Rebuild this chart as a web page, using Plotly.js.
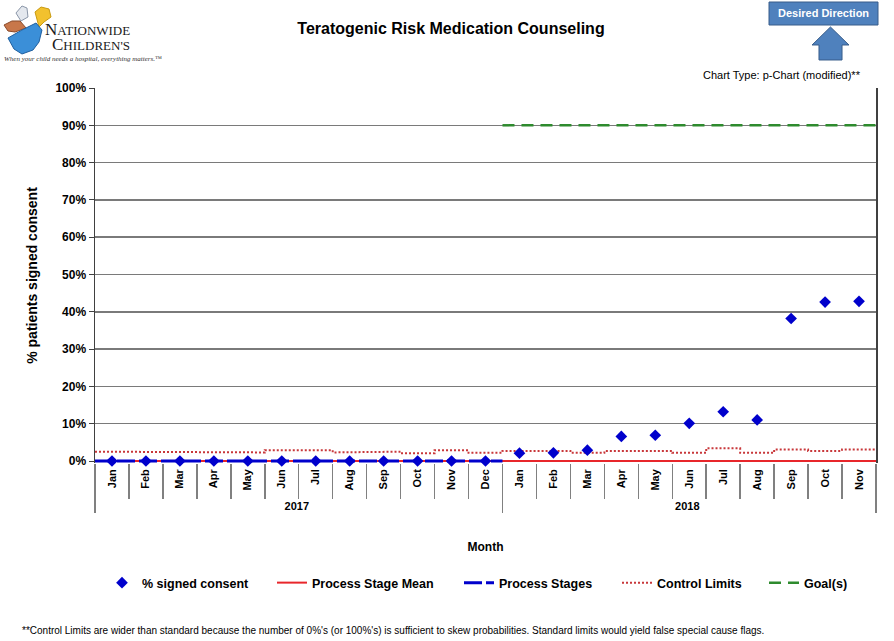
<!DOCTYPE html>
<html>
<head>
<meta charset="utf-8">
<script src="https://cdn.plot.ly/plotly-3.0.1.min.js"></script>
<style>
  html, body { margin: 0; padding: 0; background: #fff; }
  #chart { width: 894px; height: 641px; }
</style>
</head>
<body>
<div id="chart"></div>
<script>
(function() {
  "use strict";

  // ---- data ----
  var years = ["2017", "2017", "2017", "2017", "2017", "2017", "2017", "2017", "2017", "2017", "2017", "2017",
               "2018", "2018", "2018", "2018", "2018", "2018", "2018", "2018", "2018", "2018", "2018"];
  var months = ["Jan", "Feb", "Mar", "Apr", "May", "Jun", "Jul", "Aug", "Sep", "Oct", "Nov", "Dec",
                "Jan", "Feb", "Mar", "Apr", "May", "Jun", "Jul", "Aug", "Sep", "Oct", "Nov"];
  var signedConsent = [0, 0, 0, 0, 0, 0, 0, 0, 0, 0, 0, 0,
                       2.1, 2.2, 2.9, 6.6, 6.9, 10.1, 13.2, 11.0, 38.2, 42.6, 42.8];
  var stageMean = [0, 0, 0, 0, 0, 0, 0, 0, 0, 0, 0, 0,
                   0, 0, 0, 0, 0, 0, 0, 0, 0, 0, 0];
  var processStage = [0, 0, 0, 0, 0, 0, 0, 0, 0, 0, 0, 0,
                      null, null, null, null, null, null, null, null, null, null, null];
  var controlLimit = [2.5, 2.5, 2.5, 2.5, 2.3, 2.9, 2.9, 2.3, 2.5, 2.1, 2.9, 2.2,
                      2.7, 2.7, 2.2, 2.7, 2.7, 2.2, 3.4, 2.2, 3.1, 2.7, 3.1];
  var goal = [null, null, null, null, null, null, null, null, null, null, null, null,
              90, 90, 90, 90, 90, 90, 90, 90, 90, 90, 90];
  var yTicks = [0, 10, 20, 30, 40, 50, 60, 70, 80, 90, 100];

  // plot area in pixels, used only to place the decorations outside the plot
  var L = 95, R = 876, T = 88, B = 463;
  var Z = 461; // pixel row of 0%
  function px(x) { return (x - L) / (R - L); }
  function py(y) { return (B - y) / (B - T); }
  function pathPx(points) {
    return points.map(function(p, i) {
      return (i === 0 ? "M" : "L") + px(p[0]).toFixed(4) + "," + py(p[1]).toFixed(4);
    }).join(" ") + " Z";
  }

  // month-wide horizontal steps, one segment per month
  function steps(values) {
    var xs = [], ys = [];
    values.forEach(function(v, i) {
      if (v === null) {
        if (xs.length && xs[xs.length - 1] !== null) { xs.push(null); ys.push(null); }
        return;
      }
      xs.push(i - 0.5, i + 0.5);
      ys.push(v, v);
    });
    return {x: xs, y: ys};
  }

  var idx = months.map(function(m, i) { return i; });
  var font = "Liberation Sans, Arial, sans-serif";
  var serif = "Liberation Serif, DejaVu Serif, serif";

  var cl = steps(controlLimit);
  var sm = steps(stageMean);
  var ps = steps(processStage);
  var gl = steps(goal);

  var data = [
    { // sets up the two-level month / year axis
      x: [years, months], y: months.map(function() { return null; }),
      type: "scatter", mode: "markers", showlegend: false, hoverinfo: "skip",
      xaxis: "x", yaxis: "y"
    },
    {
      x: cl.x, y: cl.y, name: "Control Limits", type: "scatter", mode: "lines",
      line: {color: "#c8373a", width: 2, dash: "2px,2px"}, xaxis: "x2", legend: "legend4"
    },
    {
      x: sm.x, y: sm.y, name: "Process Stage Mean", type: "scatter", mode: "lines",
      line: {color: "#e8262b", width: 2}, xaxis: "x2", legend: "legend2"
    },
    {
      x: ps.x, y: ps.y, name: "Process Stages", type: "scatter", mode: "lines",
      line: {color: "#0000cc", width: 3, dash: "18px,4px"}, xaxis: "x2", legend: "legend3"
    },
    {
      x: gl.x, y: gl.y, name: "Goal(s)", type: "scatter", mode: "lines",
      line: {color: "#2e8b2e", width: 2.5, dash: "12px,7px"}, xaxis: "x2", legend: "legend5"
    },
    {
      x: idx, y: signedConsent, name: "% signed consent", type: "scatter", mode: "markers",
      marker: {symbol: "diamond", size: 9, color: "#0000cc"}, xaxis: "x2", cliponaxis: false,
      legend: "legend"
    }
  ];

  function legendAt(x) {
    return {
      orientation: "h",
      x: px(x), xanchor: "left",
      y: py(583), yanchor: "middle",
      font: {family: font, size: 12.5, weight: "bold", color: "#000"},
      bgcolor: "rgba(0,0,0,0)"
    };
  }

  var layout = {
    width: 894,
    height: 641,
    margin: {l: L, r: 894 - R, t: T, b: 641 - B},
    paper_bgcolor: "#fff",
    plot_bgcolor: "#fff",
    font: {family: font, color: "#000"},
    showlegend: true,
    title: {
      text: "Teratogenic Risk Medication Counseling",
      font: {family: font, size: 16, weight: "bold", color: "#000"},
      xref: "paper", x: px(451), xanchor: "center",
      yref: "container", y: 1 - 28 / 641, yanchor: "middle"
    },
    xaxis: {
      type: "multicategory",
      range: [-0.5, 22.5],
      tickangle: -90,
      ticks: "outside",
      ticklen: 35,
      tickcolor: "#808080",
      tickwidth: 1.5,
      ticklabelstandoff: 3,
      tickfont: {family: font, size: 11, weight: "bold", color: "#000"},
      showdividers: true,
      dividercolor: "#808080",
      dividerwidth: 1.5,
      showgrid: false,
      showline: false,
      zeroline: false,
      title: {text: "Month", font: {family: font, size: 12, weight: "bold", color: "#000"}, standoff: 31}
    },
    xaxis2: {
      overlaying: "x",
      range: [-0.5, 22.5],
      visible: false,
      anchor: "y"
    },
    yaxis: {
      range: [-100 * (B - Z) / (Z - T), 100],
      tickvals: yTicks,
      ticktext: yTicks.map(function(v) { return v + "%"; }),
      ticks: "outside",
      ticklen: 5,
      tickcolor: "#404040",
      tickfont: {family: font, size: 12, weight: "bold", color: "#000"},
      showgrid: true,
      gridcolor: "#7a7a7a",
      gridwidth: 1.5,
      showline: true,
      linecolor: "#404040",
      linewidth: 1.5,
      mirror: true,
      zeroline: false,
      title: {text: "% patients signed consent", font: {family: font, size: 14, weight: "bold", color: "#000"}, standoff: 14}
    },
    legend: legendAt(102),
    legend2: legendAt(272),
    legend3: legendAt(459),
    legend4: legendAt(617),
    legend5: legendAt(764),
    shapes: [
      // Desired Direction box and arrow
      {type: "rect", xref: "paper", yref: "paper", x0: px(769), x1: px(878), y0: py(25), y1: py(2),
       fillcolor: "#4f81bd", line: {color: "#385d8a", width: 1}},
      {type: "path", xref: "paper", yref: "paper",
       path: pathPx([[812, 45], [830.5, 27], [849, 45], [842, 45], [842, 60], [819, 60], [819, 45]]),
       fillcolor: "#4f81bd", line: {color: "#385d8a", width: 1}},
      // logo butterflies
      {type: "path", xref: "paper", yref: "paper",
       path: pathPx([[16, 13], [22, 6], [27, 8], [28, 17], [21, 21]]),
       fillcolor: "#e4e8ee", line: {color: "#8a96a8", width: 1}},
      {type: "path", xref: "paper", yref: "paper",
       path: pathPx([[35, 12], [41, 7], [49, 9], [51, 17], [44, 22], [39, 27]]),
       fillcolor: "#f2c12e", line: {color: "#c99a10", width: 1}},
      {type: "path", xref: "paper", yref: "paper",
       path: pathPx([[4, 25], [12, 21], [20, 21], [26, 28], [15, 32], [8, 31]]),
       fillcolor: "#c8774a", line: {color: "#8a4a2a", width: 1}},
      {type: "path", xref: "paper", yref: "paper",
       path: pathPx([[8, 38], [22, 30], [36, 23], [42, 30], [39, 42], [33, 50], [22, 54], [14, 49]]),
       fillcolor: "#3b8fd8", line: {color: "#1f5f9f", width: 1}}
    ],
    annotations: [
      {text: "Desired Direction", xref: "paper", yref: "paper", x: px(823.5), y: py(13.5),
       xanchor: "center", yanchor: "middle", showarrow: false,
       font: {family: font, size: 11, weight: "bold", color: "#fff"}},
      {text: "Chart Type: p-Chart (modified)**", xref: "paper", yref: "paper", x: px(863), y: py(75),
       xanchor: "right", yanchor: "middle", showarrow: false,
       font: {family: font, size: 11, color: "#000"}},
      {text: "N<span style=\"font-size:13px\">ATIONWIDE</span>", xref: "paper", yref: "paper", x: px(43), y: py(29),
       xanchor: "left", yanchor: "middle", showarrow: false,
       font: {family: serif, size: 17, color: "#1a1a1a"}},
      {text: "C<span style=\"font-size:13px\">HILDREN'S</span>", xref: "paper", yref: "paper", x: px(50), y: py(45),
       xanchor: "left", yanchor: "middle", showarrow: false,
       font: {family: serif, size: 17, color: "#1a1a1a"}},
      {text: "<i>When your child needs a hospital, everything matters.</i>\u2122", xref: "paper", yref: "paper",
       x: px(2), y: py(59), xanchor: "left", yanchor: "middle", showarrow: false,
       font: {family: serif, size: 7, color: "#333"}},
      {text: "**Control Limits are wider than standard because the number of 0%'s (or 100%'s) is sufficient to skew probabilities. Standard limits would yield false special cause flags.",
       xref: "paper", yref: "paper", x: px(20), y: py(630), xanchor: "left", yanchor: "middle", showarrow: false,
       font: {family: font, size: 10, color: "#000"}}
    ]
  };

  Plotly.newPlot("chart", data, layout, {displayModeBar: false, staticPlot: true});
})();
</script>
</body>
</html>
